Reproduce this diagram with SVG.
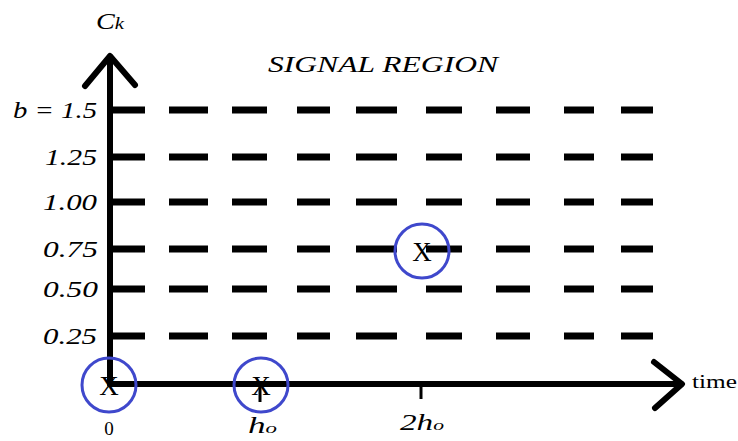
<svg xmlns="http://www.w3.org/2000/svg" width="738" height="441" viewBox="0 0 738 441">
<style>
.ax{stroke:#000;stroke-width:6;fill:none;stroke-linecap:round;stroke-linejoin:round}
.dash{stroke:#000;stroke-width:7;fill:none;stroke-dasharray:35 24 39 24 35 30 33 26 41 29 36 34 34 34 30 27 32 100}
.tick{stroke:#000;stroke-width:3}
.lbl{font-family:"Liberation Serif","DejaVu Serif",serif;font-style:italic;font-size:23px;fill:#000}
.ring{fill:none;stroke:#3f48cc;stroke-width:3}
.x{font-family:"Liberation Serif","DejaVu Serif",serif;font-size:27px;fill:#000;text-anchor:middle}
</style>
<rect width="738" height="441" fill="#fff"/>
<g id="grid">
<line class="dash" x1="110" y1="110" x2="654" y2="110"/>
<line class="dash" x1="110" y1="157" x2="654" y2="157"/>
<line class="dash" x1="110" y1="202" x2="654" y2="202"/>
<line class="dash" x1="110" y1="249" x2="654" y2="249"/>
<line class="dash" x1="110" y1="289" x2="654" y2="289"/>
<line class="dash" x1="110" y1="336" x2="654" y2="336"/>
</g>
<g id="axes">
<line class="ax" x1="110" y1="384" x2="110" y2="57"/>
<polyline class="ax" points="85,86 110,56 135,85"/>
<line class="ax" x1="110" y1="384" x2="681" y2="384"/>
<polyline class="ax" points="654,362 682,384 655,408"/>
<line class="tick" x1="260" y1="384" x2="260" y2="402"/>
<line class="tick" x1="421" y1="384" x2="421" y2="399"/>
</g>
<g id="ylabels" class="lbl">
<text x="13" y="118" textLength="84" lengthAdjust="spacingAndGlyphs">b = 1.5</text>
<text x="45" y="165" textLength="52" lengthAdjust="spacingAndGlyphs">1.25</text>
<text x="43" y="210" textLength="54" lengthAdjust="spacingAndGlyphs">1.00</text>
<text x="43" y="257" textLength="55" lengthAdjust="spacingAndGlyphs">0.75</text>
<text x="43" y="297" textLength="55" lengthAdjust="spacingAndGlyphs">0.50</text>
<text x="43" y="344" textLength="54" lengthAdjust="spacingAndGlyphs">0.25</text>
</g>
<g id="ck"><text class="lbl" x="96" y="29" font-size="26" textLength="28" lengthAdjust="spacingAndGlyphs">C<tspan font-size="17">k</tspan></text></g>
<g id="title"><text class="lbl" x="268" y="72" font-size="25" textLength="230" lengthAdjust="spacingAndGlyphs">SIGNAL REGION</text></g>
<g id="xlabels">
<text x="109" y="435" font-family="Liberation Serif, serif" font-size="19" text-anchor="middle">0</text>
<text class="lbl" x="248" y="433" textLength="29" lengthAdjust="spacingAndGlyphs">h<tspan font-size="15">o</tspan></text>
<text class="lbl" x="400" y="430" textLength="44" lengthAdjust="spacingAndGlyphs">2h<tspan font-size="15">o</tspan></text>
<text x="692" y="388" font-family="Liberation Serif, serif" font-size="19" textLength="45" lengthAdjust="spacingAndGlyphs">time</text>
</g>
<g id="p0"><circle class="ring" cx="109" cy="385" r="27"/><text class="x" x="109" y="395">X</text></g>
<g id="p1"><circle class="ring" cx="261" cy="385" r="27"/><text class="x" x="261" y="395">X</text></g>
<g id="p2"><circle class="ring" cx="422" cy="251" r="27"/><text class="x" x="422" y="261">X</text></g>
</svg>
